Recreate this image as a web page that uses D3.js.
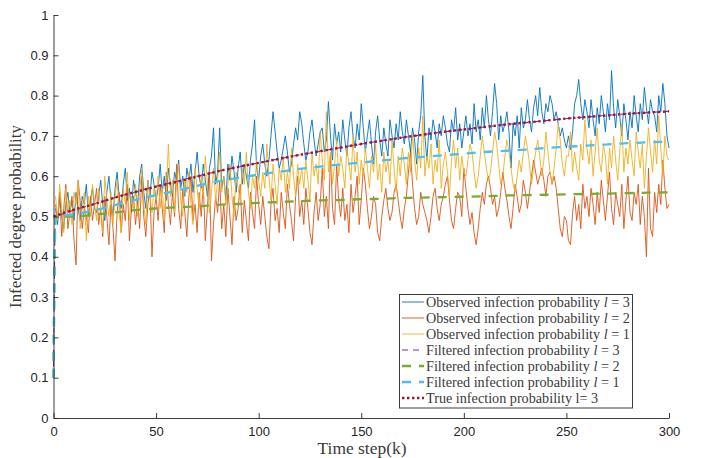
<!DOCTYPE html>
<html><head><meta charset="utf-8">
<script src="https://cdn.jsdelivr.net/npm/d3@7"></script>
<style>body{margin:0;background:#fff}svg{display:block}</style>
</head><body><svg id="c" width="707" height="458"></svg>
<script>
// Observed infection probability, k = 1..300
const obsL3 = [
.52,.48,.55,.50,.47,.53,.56,.51,.54,.49,
.56,.52,.49,.55,.53,.58,.50,.54,.57,.52,
.51,.55,.59,.53,.49,.56,.60,.54,.50,.57,
.61,.55,.52,.58,.62,.54,.57,.51,.59,.56,
.53,.60,.63,.56,.52,.59,.55,.61,.58,.54,
.57,.63,.56,.60,.54,.62,.58,.55,.61,.59,
.64,.57,.60,.55,.62,.59,.63,.56,.61,.66,
.60,.57,.63,.59,.55,.62,.65,.72,.58,.61,
.72,.57,.60,.54,.63,.59,.65,.61,.56,.62,
.66,.58,.63,.60,.57,.64,.68,.74,.62,.59,
.65,.68,.63,.60,.64,.70,.76,.71,.66,.62,
.64,.67,.70,.66,.61,.63,.68,.72,.69,.76,
.73,.68,.64,.66,.71,.74,.69,.65,.68,.71,
.72,.66,.69,.785,.70,.64,.73,.68,.71,.66,
.74,.69,.65,.72,.76,.70,.67,.73,.69,.78,
.72,.66,.70,.74,.68,.63,.71,.75,.69,.65,
.72,.68,.65,.74,.70,.67,.73,.69,.76,.71,
.68,.74,.70,.66,.72,.69,.63,.71,.75,.85,
.70,.64,.72,.69,.74,.71,.67,.73,.70,.75,
.72,.68,.66,.74,.71,.77,.69,.73,.67,.71,
.75,.70,.73,.68,.78,.71,.74,.69,.77,.72,
.80,.74,.70,.76,.83,.78,.69,.75,.71,.73,
.76,.71,.62,.73,.70,.75,.67,.77,.72,.74,
.79,.74,.71,.77,.80,.75,.82,.76,.73,.78,
.76,.80,.78,.74,.76,.73,.70,.72,.69,.67,
.70,.666,.71,.78,.80,.84,.78,.74,.79,.76,
.72,.79,.74,.70,.77,.73,.80,.76,.71,.78,
.74,.862,.77,.72,.79,.75,.70,.78,.74,.69,
.76,.72,.80,.75,.71,.78,.74,.82,.77,.73,
.79,.76,.75,.71,.80,.76,.83,.78,.70,.67];
const obsL2 = [
.53,.49,.56,.45,.52,.58,.47,.51,.55,.44,
.38,.59,.54,.47,.52,.50,.46,.55,.49,.53,
.57,.48,.52,.45,.55,.50,.43,.53,.47,.39,
.51,.56,.46,.53,.49,.58,.44,.52,.55,.48,
.54,.47,.60,.50,.45,.53,.57,.40,.51,.55,
.49,.58,.52,.46,.61,.53,.48,.56,.50,.63,
.52,.47,.57,.51,.45,.55,.60,.49,.53,.46,
.56,.50,.58,.44,.52,.61,.39,.48,.55,.51,
.59,.47,.53,.45,.57,.50,.43,.55,.49,.52,
.58,.46,.54,.49,.44,.56,.51,.47,.60,.53,
.48,.55,.50,.45,.42,.53,.57,.49,.52,.46,
.56,.51,.47,.58,.53,.49,.44,.55,.60,.50,
.54,.48,.57,.52,.46,.43,.51,.56,.49,.53,
.62,.50,.55,.47,.66,.52,.48,.63,.54,.50,
.57,.49,.53,.46,.58,.51,.55,.60,.48,.54,
.62,.58,.52,.47,.50,.55,.53,.46,.44,.50,
.54,.57,.52,.49,.51,.56,.58,.54,.50,.47,
.52,.55,.61,.66,.58,.52,.48,.50,.56,.53,
.51,.49,.46,.50,.55,.57,.52,.49,.53,.55,
.58,.60,.54,.49,.47,.52,.56,.55,.50,.62,
.57,.52,.48,.51,.46,.43,.47,.52,.56,.53,
.58,.60,.57,.53,.55,.50,.52,.56,.61,.57,
.54,.50,.47,.52,.58,.55,.51,.53,.59,.56,
.52,.56,.60,.64,.61,.58,.60,.62,.59,.55,
.60,.61,.58,.60,.57,.52,.47,.45,.50,.49,
.44,.43,.51,.55,.49,.53,.47,.58,.52,.55,
.50,.57,.53,.48,.56,.51,.59,.54,.49,.55,
.61,.52,.48,.56,.53,.50,.58,.47,.54,.60,
.51,.49,.56,.53,.58,.48,.55,.50,.40,.62,
.47,.45,.56,.51,.58,.53,.64,.57,.52,.53];
const obsL1 = [
.55,.49,.58,.52,.46,.57,.51,.54,.48,.56,
.53,.59,.47,.52,.56,.44,.55,.50,.58,.53,
.49,.57,.52,.46,.60,.54,.50,.56,.48,.55,
.59,.51,.46,.57,.53,.61,.49,.55,.52,.58,
.50,.56,.62,.53,.48,.59,.55,.51,.57,.54,
.60,.52,.57,.49,.56,.68,.55,.59,.51,.58,
.63,.54,.50,.59,.56,.61,.53,.48,.62,.57,
.52,.60,.55,.65,.58,.51,.56,.62,.54,.59,
.66,.56,.60,.53,.58,.63,.55,.50,.61,.57,
.54,.62,.58,.66,.56,.52,.60,.57,.64,.59,
.55,.61,.57,.68,.60,.54,.63,.58,.53,.62,
.59,.65,.56,.61,.57,.67,.60,.55,.63,.58,
.62,.57,.64,.59,.54,.66,.60,.63,.58,.71,
.64,.59,.76,.61,.66,.58,.63,.69,.60,.65,
.62,.57,.67,.63,.59,.70,.61,.66,.58,.64,
.60,.67,.62,.57,.65,.61,.68,.59,.63,.56,
.66,.61,.64,.58,.69,.62,.56,.65,.60,.67,
.63,.58,.66,.61,.70,.64,.59,.67,.62,.75,
.60,.65,.62,.68,.58,.64,.61,.69,.57,.63,
.66,.61,.55,.64,.69,.62,.67,.59,.65,.61,
.60,.64,.68,.66,.61,.57,.60,.65,.70,.66,
.62,.59,.61,.66,.71,.68,.63,.58,.60,.65,
.69,.66,.62,.58,.56,.60,.64,.61,.66,.70,
.67,.63,.58,.62,.66,.69,.65,.60,.64,.71,
.66,.61,.58,.62,.67,.73,.69,.63,.60,.65,
.65,.71,.61,.66,.62,.59,.68,.64,.74,.67,
.63,.69,.60,.66,.72,.64,.61,.68,.65,.58,
.67,.62,.70,.64,.59,.66,.73,.61,.67,.63,
.69,.64,.60,.71,.66,.62,.68,.57,.65,.72,
.66,.61,.69,.63,.75,.67,.60,.70,.65,.64];

// Smooth curves
const trueK = [0,10,20,30,40,50,60,70,80,90,100,110,120,130,140,150,160,170,180,190,200,210,220,230,240,250,260,270,280,290,300];
const trueL3 = [.500,.517,.531,.547,.561,.574,.586,.599,.612,.623,.633,.643,.653,.662,.671,.680,.688,.696,.703,.710,.716,.722,.728,.733,.738,.743,.747,.751,.755,.758,.761];
const filtK = [0,1,5,10,20,30,40,50,60,70,80,90,100,110,120,130,140,150,160,170,180,190,200,210,220,230,240,250,260,270,280,290,300];
const filtL3 = [.10,.50,.507,.516,.531,.547,.561,.575,.587,.600,.612,.623,.633,.643,.653,.662,.671,.680,.688,.696,.703,.710,.716,.722,.728,.733,.738,.743,.747,.751,.755,.758,.761];
const filtL2 = [.10,.50,.500,.500,.505,.510,.516,.520,.523,.525,.529,.531,.534,.536,.538,.540,.541,.543,.544,.546,.547,.548,.549,.550,.552,.553,.554,.555,.556,.557,.558,.559,.560];
const filtL1 = [.10,.50,.502,.505,.515,.528,.541,.553,.564,.576,.587,.596,.604,.611,.618,.624,.629,.634,.639,.644,.648,.652,.656,.660,.663,.666,.670,.673,.676,.679,.682,.684,.686];

const xTicks = [0,50,100,150,200,250,300];
const xTickLabels = ["0","50","100","150","200","250","300"];
const yTicks = [0,0.1,0.2,0.3,0.4,0.5,0.6,0.7,0.8,0.9,1];
const yTickLabels = ["0","0.1","0.2","0.3","0.4","0.5","0.6","0.7","0.8","0.9","1"];
const legendLabels = [
  ["Observed infection probability ","l"," = 3"],
  ["Observed infection probability ","l"," = 2"],
  ["Observed infection probability ","l"," = 1"],
  ["Filtered infection probability ","l"," = 3"],
  ["Filtered infection probability ","l"," = 2"],
  ["Filtered infection probability ","l"," = 1"],
  ["True infection probability l= 3","",""]
];

const svg = d3.select("#c");
const L = 53.5, R = 669, T = 15, B = 418;
const x = d3.scaleLinear().domain([0,300]).range([L,R]);
const y = d3.scaleLinear().domain([0,1]).range([B,T]);
const axisColor = "#262626";
const labelColor = "#3a3a3a";

const styles = [
  {c:"#0072BD", w:0.9, d:null},
  {c:"#D95319", w:0.9, d:null},
  {c:"#EDB120", w:0.9, d:null},
  {c:"#7E2F8E", w:1.1, d:"6,5"},
  {c:"#77AC30", w:2.3, d:"9,8"},
  {c:"#4DBEEE", w:2.3, d:"9,8"},
  {c:"#A2142F", w:2.4, d:"2.4,2.6"}
];

const series = [
  obsL3.map((v,i)=>[i+1,v]),
  obsL2.map((v,i)=>[i+1,v]),
  obsL1.map((v,i)=>[i+1,v]),
  filtK.map((k,i)=>[k,filtL3[i]]),
  filtK.map((k,i)=>[k,filtL2[i]]),
  filtK.map((k,i)=>[k,filtL1[i]]),
  trueK.map((k,i)=>[k,trueL3[i]])
];

const lineLin = d3.line().x(d=>x(d[0])).y(d=>y(d[1]));
const lineSm = d3.line().x(d=>x(d[0])).y(d=>y(d[1])).curve(d3.curveMonotoneX);

const g = svg.append("g");
series.forEach((s,i)=>{
  const st = styles[i];
  g.append("path").attr("d", (i<3?lineLin:lineSm)(s))
    .attr("fill","none").attr("stroke",st.c).attr("stroke-width",st.w)
    .attr("stroke-dasharray",st.d).attr("stroke-linejoin","round");
});

// axes
const ya = svg.append("g").attr("transform",`translate(${L},0)`)
  .call(d3.axisLeft(y).tickValues(yTicks).tickFormat((d,i)=>yTickLabels[i]).tickSizeInner(-5).tickSizeOuter(0).tickPadding(5));
const xa = svg.append("g").attr("transform",`translate(0,${B})`)
  .call(d3.axisBottom(x).tickValues(xTicks).tickFormat((d,i)=>xTickLabels[i]).tickSizeInner(-5).tickSizeOuter(0).tickPadding(9));
[ya,xa].forEach(a=>{
  a.select(".domain").attr("stroke",axisColor).attr("stroke-width",0.9);
  a.selectAll(".tick line").attr("stroke",axisColor).attr("stroke-width",0.9);
  a.selectAll(".tick text").attr("fill",axisColor).style("font-family","'Liberation Sans',Arial,sans-serif").style("font-size","13px");
});

// axis labels
const serif = "'Liberation Serif','DejaVu Serif',serif";
const yl = svg.append("text").attr("transform","translate(21,216.5) rotate(-90)")
  .attr("text-anchor","middle").attr("fill",labelColor)
  .style("font-family",serif).style("font-size","15px").text("Infected degree probability");
const xl = svg.append("text").attr("x",362).attr("y",454)
  .attr("text-anchor","middle").attr("fill",labelColor)
  .style("font-family",serif).style("font-size","15px").text("Time step(k)");
function fit(t, target){ const w=t.node().getComputedTextLength(); const fs=parseFloat(t.style("font-size")); t.style("font-size",(fs*target/w)+"px"); }
fit(yl,183); fit(xl,89);

// legend
const lg = svg.append("g");
lg.append("rect").attr("x",399.5).attr("y",294.5).attr("width",233).attr("height",113.5)
  .attr("fill","#fff").attr("stroke",axisColor).attr("stroke-width",0.9);
legendLabels.forEach((lab,i)=>{
  const cy = 302 + i*16;
  const st = styles[i];
  lg.append("line").attr("x1",402).attr("x2",424).attr("y1",cy).attr("y2",cy)
    .attr("stroke",st.c).attr("stroke-width",st.w).attr("stroke-dasharray",st.d);
  const t = lg.append("text").attr("x",426).attr("y",cy).attr("dy","0.35em")
    .attr("fill",labelColor).style("font-family",serif).style("font-size","13px");
  t.append("tspan").text(lab[0]);
  if(lab[1]) t.append("tspan").style("font-style","italic").text(lab[1]);
  if(lab[2]) t.append("tspan").text(lab[2]);
  if(i===0){ const w=t.node().getComputedTextLength(); lg.attr("data-fs", 13*204/w); }
});
const fs = +lg.attr("data-fs");
lg.selectAll("text").style("font-size",fs+"px");
</script></body></html>
